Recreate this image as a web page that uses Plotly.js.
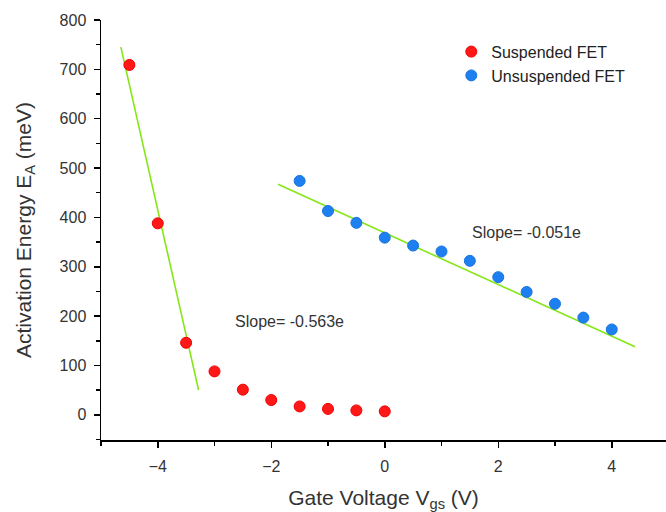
<!DOCTYPE html>
<html>
<head>
<meta charset="utf-8">
<script src="https://cdn.plot.ly/plotly-3.0.1.min.js"></script>
<style>html,body{margin:0;padding:0;background:#fff;}#chart{width:666px;height:512px;}</style>
</head>
<body>
<div id="chart"></div>
<script>
// Suspended FET
const suspX = [-4.5, -4, -3.5, -3, -2.5, -2, -1.5, -1, -0.5, 0];
const suspY = [709, 388, 146, 88, 51, 30, 17, 12, 9, 7];
// Unsuspended FET
const unsuspX = [-1.5, -1, -0.5, 0, 0.5, 1, 1.5, 2, 2.5, 3, 3.5, 4];
const unsuspY = [474, 413, 389, 359, 343, 331, 312, 279, 249, 225, 197, 173];
// Linear fits (end points)
const fitSuspX = [-4.65, -3.28];
const fitSuspY = [745, 50];
const fitUnsuspX = [-1.88, 4.41];
const fitUnsuspY = [467, 138];
const slopeLabels = ["Slope= -0.563e", "Slope= -0.051e"];
const slopeLabelX = [-1.67, 2.49];
const slopeLabelY = [189, 370];
const xTicks = [-4, -2, 0, 2, 4];
const yTicks = [0, 100, 200, 300, 400, 500, 600, 700, 800];

const fontFam = "Liberation Sans, Arial, sans-serif";
const green = "#86e616";

const traces = [
  {x: fitSuspX, y: fitSuspY, mode: "lines", line: {color: green, width: 1.6}, showlegend: false, hoverinfo: "skip"},
  {x: fitUnsuspX, y: fitUnsuspY, mode: "lines", line: {color: green, width: 1.6}, showlegend: false, hoverinfo: "skip"},
  {x: suspX, y: suspY, mode: "markers", name: "Suspended FET",
   marker: {color: "#ff1818", size: 11, line: {color: "#f00000", width: 1}}},
  {x: unsuspX, y: unsuspY, mode: "markers", name: "Unsuspended FET",
   marker: {color: "#1e80f0", size: 11, line: {color: "#1a74e0", width: 1}}}
];

const axisCommon = {
  showline: true, linecolor: "#000", linewidth: 1.5, mirror: false,
  ticks: "outside", ticklen: 6, tickwidth: 1.5, tickcolor: "#000",
  showgrid: false, zeroline: false,
  tickfont: {family: fontFam, size: 16, color: "#333"}
};

const layout = {
  width: 666, height: 512,
  margin: {l: 101, r: 0, t: 20, b: 72, pad: 0},
  paper_bgcolor: "#fff", plot_bgcolor: "#fff",
  font: {family: fontFam, color: "#333"},
  xaxis: Object.assign({}, axisCommon, {
    range: [-5, 4.956], tickmode: "array", tickvals: xTicks,
    ticklabelstandoff: 5,
    minor: {ticks: "outside", ticklen: 4, tickwidth: 1.5, tickcolor: "#000", dtick: 1, tick0: 0},
    title: {text: "Gate Voltage V<sub>gs</sub> (V)", font: {family: fontFam, size: 21, color: "#333"}, standoff: 16}
  }),
  yaxis: Object.assign({}, axisCommon, {
    range: [-51, 800], tickmode: "array", tickvals: yTicks,
    ticklabelstandoff: 4,
    minor: {ticks: "outside", ticklen: 4, tickwidth: 1.5, tickcolor: "#000", dtick: 50, tick0: 0},
    title: {text: "Activation Energy E<sub>A</sub> (meV)", font: {family: fontFam, size: 21, color: "#333"}, standoff: 22}
  }),
  legend: {x: 0.62, y: 0.965, xanchor: "left", yanchor: "top", bgcolor: "rgba(0,0,0,0)",
           font: {family: fontFam, size: 16, color: "#222"}, tracegroupgap: 0},
  annotations: slopeLabels.map((t, i) => ({
    x: slopeLabelX[i], y: slopeLabelY[i], xref: "x", yref: "y", text: t, showarrow: false,
    font: {family: fontFam, size: 16, color: "#333"}
  }))
};

Plotly.newPlot("chart", traces, layout, {displayModeBar: false, staticPlot: true});
</script>
</body>
</html>
